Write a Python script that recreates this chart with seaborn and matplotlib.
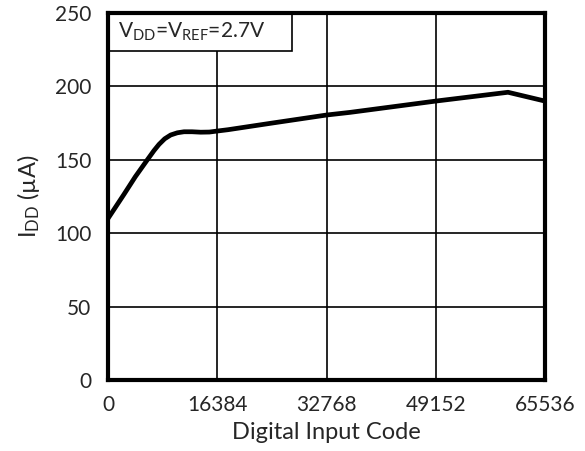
import matplotlib
matplotlib.use("Agg")
import matplotlib.pyplot as plt
from matplotlib.patches import Rectangle
import seaborn as sns
import pandas as pd

# Supply current vs. DAC code
codes = [0, 2400, 4100, 5900, 6900, 7650, 8500, 9400, 10400, 11400, 12600, 13900, 15200, 16400,
         18000, 24576, 32768, 36290, 49152, 59990, 65536]
idd_ua = [110, 126.5, 138.5, 150, 156.3, 160.5, 164.3, 166.9, 168.4, 169.1, 169.1, 168.8, 168.9, 169.6,
          170.5, 175, 180.5, 182.3, 190, 196, 190]

x_ticks = [0, 16384, 32768, 49152, 65536]
y_ticks = [0, 50, 100, 150, 200, 250]

sns.set_theme(style="white")
plt.rcParams["font.family"] = ["Lato", "DejaVu Sans"]
plt.rcParams["mathtext.fontset"] = "custom"
plt.rcParams["mathtext.rm"] = "Lato"
plt.rcParams["mathtext.it"] = "Lato"

df = pd.DataFrame({"code": codes, "idd": idd_ua})

fig = plt.figure(figsize=(5.85, 4.51), dpi=100)
ax = fig.add_axes([108 / 585, 1 - 380 / 451, (545 - 108) / 585, (380 - 13) / 451])

sns.lineplot(data=df, x="code", y="idd", ax=ax, color="black", linewidth=3.4, zorder=3,
             solid_joinstyle="round", solid_capstyle="round")

ax.set_xlim(0, 65536)
ax.set_ylim(0, 250)
ax.set_xticks(x_ticks)
ax.set_yticks(y_ticks)
ax.set_xticklabels([str(v) for v in x_ticks], fontsize=15)
ax.set_yticklabels([str(v) for v in y_ticks], fontsize=15)
ax.tick_params(axis="x", length=0, pad=11)
ax.tick_params(axis="y", length=0, pad=12)
ax.grid(True, color="black", linewidth=1.2)
for sp in ax.spines.values():
    sp.set_visible(True)
    sp.set_color("black")
    sp.set_linewidth(3)
    sp.set_zorder(6)

ax.set_xlabel("Digital Input Code", fontsize=17, labelpad=5)
ax.set_ylabel(r"$\mathregular{I_{DD}}$ (µA)", fontsize=17, labelpad=9)

# Condition label box in the upper-left corner
ax.add_patch(Rectangle((0, 0.897), 0.421, 0.103, transform=ax.transAxes,
                       facecolor="white", edgecolor="black", linewidth=1.2, zorder=5))
ax.text(0.023, 0.934, r"$\mathregular{V_{DD}}$=$\mathregular{V_{REF}}$=2.7V",
        transform=ax.transAxes, ha="left", va="baseline", fontsize=15, zorder=7)

fig.savefig("out.png", dpi=100)
